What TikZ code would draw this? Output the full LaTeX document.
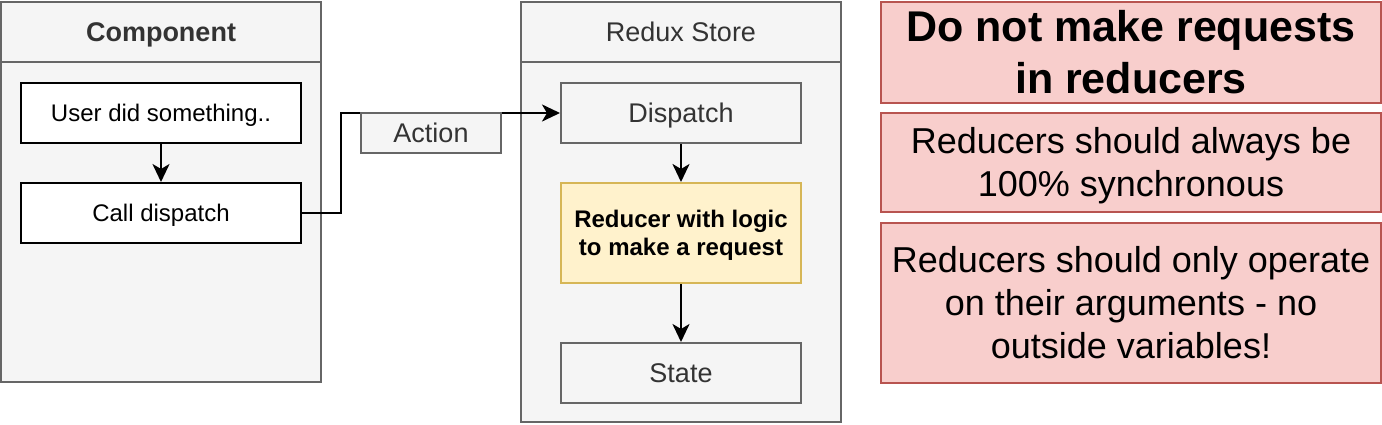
\documentclass[tikz,border=0pt]{standalone}
\usepackage{fontspec}
\setmainfont{Liberation Sans}
\usetikzlibrary{arrows.meta}
\definecolor{grayfill}{HTML}{F5F5F5}
\definecolor{graystroke}{HTML}{666666}
\definecolor{graytext}{HTML}{333333}
\definecolor{redfill}{HTML}{F8CECC}
\definecolor{redstroke}{HTML}{B85450}
\definecolor{yelfill}{HTML}{FFF2CC}
\definecolor{yelstroke}{HTML}{D6B656}
\newcommand\dstrut{\rule[-0.212em]{0pt}{1.117em}}
\begin{document}
\begin{tikzpicture}[x=1pt,y=-1pt,
  base/.style={rectangle, line width=2pt, inner sep=0pt, align=center},
  lane/.style={base, draw=graystroke, fill=grayfill, minimum width=320pt},
  lanehead/.style={lane, minimum height=60pt, text=graytext, font=\fontsize{27}{32}\selectfont},
  whitebox/.style={base, draw=black, fill=white, minimum width=280pt, minimum height=60pt, font=\fontsize{24}{28}\selectfont},
  graybox/.style={base, draw=graystroke, fill=grayfill, text=graytext, minimum width=240pt, minimum height=60pt, font=\fontsize{27}{32}\selectfont},
  yelbox/.style={base, draw=yelstroke, fill=yelfill, minimum width=240pt, minimum height=100pt, font=\bfseries\fontsize{24}{28}\selectfont},
  notebox/.style={base, draw=redstroke, fill=redfill, minimum width=500pt, font=\fontsize{36}{43}\selectfont},
  flow/.style={line width=2.5pt, draw=black, -{Stealth[length=18pt,width=17pt,inset=5pt]}}
]
\useasboundingbox (0,0) rectangle (1382,424);

% Component lane
\node[lane, minimum height=380pt] (comp) at (161,192) {};
\node[lanehead, font=\bfseries\fontsize{27}{32}\selectfont] (comphead) at (161,32) {\dstrut Component};
\node[whitebox] (user) at (161,113) {\dstrut User did something..};
\node[whitebox] (call) at (161,213) {\dstrut Call dispatch};

% Redux Store lane
\node[lane, minimum height=420pt] (store) at (681,212) {};
\node[lanehead] (storehead) at (681,32) {\dstrut Redux Store};
\node[graybox] (dispatch) at (681,113) {\dstrut Dispatch};
\node[yelbox] (reducer) at (681,233) {\dstrut Reducer with logic\\to make a request\dstrut};
\node[graybox] (state) at (681,373) {\dstrut State};

% connectors
\draw[flow] (user) -- (call);
\draw[flow] (dispatch) -- (reducer);
\draw[flow] (reducer) -- (state);
\coordinate (bend) at (341,213);
\draw[flow] (call.east) -- (bend) |- (dispatch.west);
\node[base, draw=graystroke, fill=grayfill, text=graytext, minimum width=140pt, minimum height=40pt, font=\fontsize{27}{32}\selectfont] (action) at (431,133) {\dstrut Action};

% notes
\node[notebox, minimum height=99pt, font=\bfseries\fontsize{43}{52}\selectfont] (note1) at (1131,52.5) {\dstrut Do not make requests\\in reducers\dstrut};
\node[notebox, minimum height=99pt] (note2) at (1131,162.5) {\dstrut Reducers should always be\\100\% synchronous\dstrut};
\node[notebox, minimum height=160pt] (note3) at (1131,303) {\dstrut Reducers should only operate\\on their arguments - no\\outside variables!\dstrut};
\end{tikzpicture}
\end{document}
